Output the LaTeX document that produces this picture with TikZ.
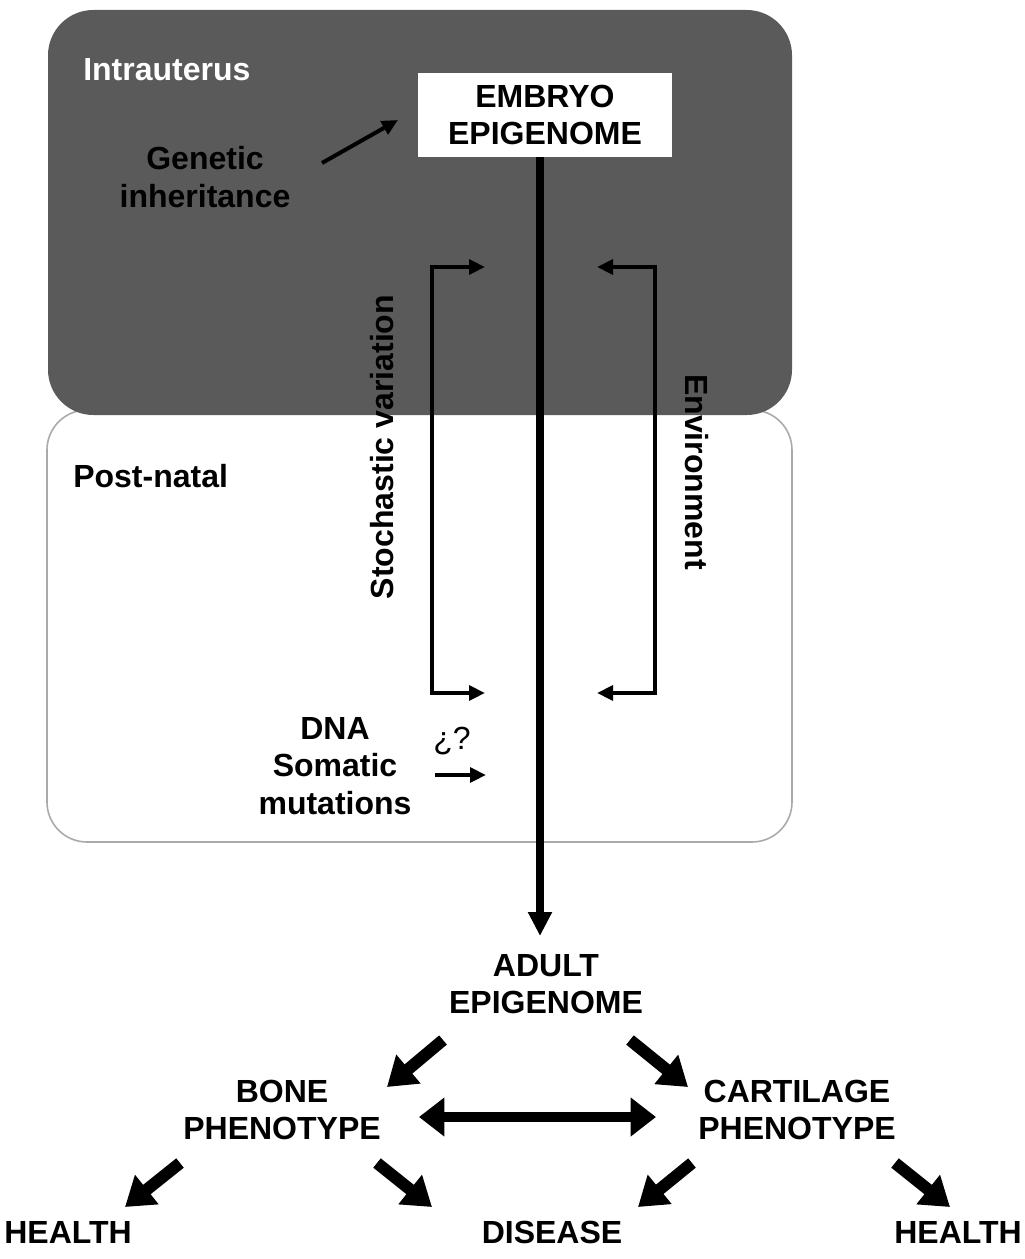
\documentclass[tikz,border=0pt]{standalone}
\usepackage{fontspec}
\setmainfont{Liberation Sans}
\usetikzlibrary{arrows.meta}
\definecolor{darkbox}{RGB}{90,90,90}
\definecolor{lightedge}{RGB}{170,170,170}
\begin{document}
\begin{tikzpicture}[x=0.75pt,y=-0.75pt,
  font=\fontsize{24}{28}\selectfont\bfseries,
  lbl/.style={align=center, inner sep=0pt},
  thinarr/.style={line width=3pt, -{Triangle[length=12pt,width=11pt]}},
  brk/.style={line width=3pt, {Triangle[length=12pt,width=11pt]}-{Triangle[length=12pt,width=11pt]}},
  mainarr/.style={line width=5.8pt, -{Triangle[length=18pt,width=17pt]}},
  fatarr/.style={line width=9pt, -{Triangle[length=21pt,width=27pt]}},
  dblarr/.style={line width=8pt, {Triangle[length=19pt,width=28pt]}-{Triangle[length=19pt,width=28pt]}}
]
\useasboundingbox (0,0) rectangle (1024,1259);
% panels
\draw[lightedge, line width=1.2pt, fill=white, rounded corners=30pt] (47,410) rectangle (792,842);
\fill[darkbox, rounded corners=34pt] (48,10) rectangle (792,415);
% intrauterus
\node[lbl, anchor=west, text=white] (intra) at (83,70) {Intrauterus};
\node[lbl, fill=white, minimum width=190.5pt, minimum height=63pt] (embryo) at (545,115) {EMBRYO\\EPIGENOME};
\node[lbl] (gen) at (205,177) {Genetic\\inheritance};
\coordinate (g1) at (322,163);
\coordinate (g2) at (398,120);
\draw[thinarr] (g1) -- (g2);
% main vertical arrow
\coordinate (m1) at (540,157);
\coordinate (m2) at (540,936);
\draw[mainarr] (m1) -- (m2);
% brackets
\coordinate (s1) at (485,267);
\coordinate (s2) at (432,267);
\coordinate (s3) at (432,693);
\coordinate (s4) at (485,693);
\draw[brk] (s1) -- (s2) -- (s3) -- (s4);
\coordinate (e1) at (597,267);
\coordinate (e2) at (655,267);
\coordinate (e3) at (655,693);
\coordinate (e4) at (597,693);
\draw[brk] (e1) -- (e2) -- (e3) -- (e4);
\node[lbl, rotate=90] (stoch) at (382,447) {Stochastic variation};
\node[lbl, rotate=-90] (env) at (697,472) {Environment};
% post-natal
\node[lbl, anchor=west] (post) at (73,476) {Post-natal};
\node[lbl] (dna) at (335,766) {DNA\\Somatic\\mutations};
\node[lbl, font=\fontsize{24}{28}\selectfont] (q) at (452,741) {¿?};
\coordinate (d1) at (435,775);
\coordinate (d2) at (486,775);
\draw[thinarr] (d1) -- (d2);
% lower part
\node[lbl] (adult) at (546,984) {ADULT\\EPIGENOME};
\node[lbl] (bone) at (282,1110) {BONE\\PHENOTYPE};
\node[lbl] (cart) at (797,1110) {CARTILAGE\\PHENOTYPE};
\node[lbl] (h1) at (68,1232) {HEALTH};
\node[lbl] (dis) at (552,1232) {DISEASE};
\node[lbl] (h2) at (958,1232) {HEALTH};
\coordinate (a1) at (443,1040);
\coordinate (a2) at (387,1087);
\coordinate (a3) at (630,1040);
\coordinate (a4) at (688,1087);
\draw[fatarr] (a1) -- (a2);
\draw[fatarr] (a3) -- (a4);
\coordinate (b1) at (419,1117);
\coordinate (b2) at (656,1117);
\draw[dblarr] (b1) -- (b2);
\coordinate (c1) at (180,1163);
\coordinate (c2) at (125,1207);
\coordinate (c3) at (377,1163);
\coordinate (c4) at (432,1207);
\coordinate (c5) at (692,1163);
\coordinate (c6) at (638,1207);
\coordinate (c7) at (895,1163);
\coordinate (c8) at (950,1207);
\draw[fatarr] (c1) -- (c2);
\draw[fatarr] (c3) -- (c4);
\draw[fatarr] (c5) -- (c6);
\draw[fatarr] (c7) -- (c8);
\end{tikzpicture}
\end{document}
